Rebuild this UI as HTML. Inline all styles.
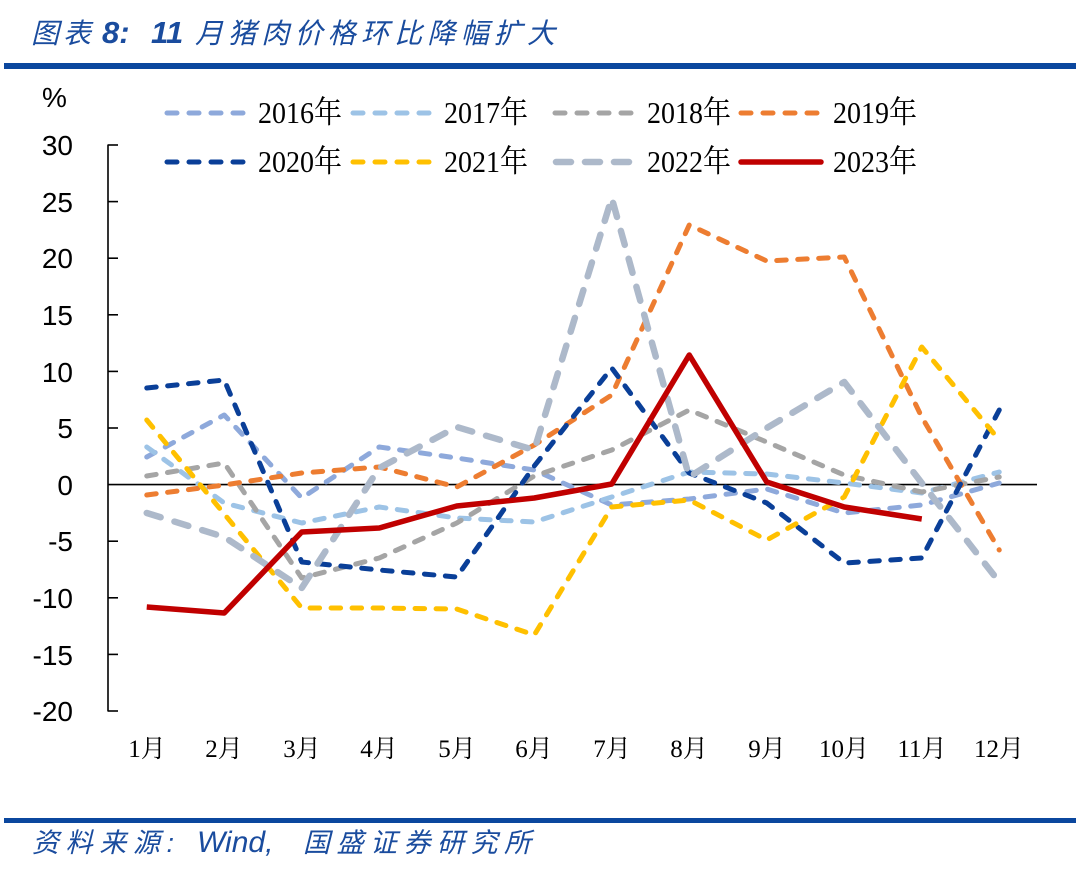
<!DOCTYPE html>
<html>
<head>
<meta charset="utf-8">
<style>
  html,body{margin:0;padding:0;background:#fff;}
  body{width:1080px;height:869px;overflow:hidden;}
  svg{display:block;}
</style>
</head>
<body>
<svg width="1080" height="869" viewBox="0 0 1080 869" xmlns="http://www.w3.org/2000/svg">
  <!-- Title -->
  <g fill="#1A4C9E" font-style="italic">
    <text x="31" y="43" font-family="'Liberation Sans','Noto Sans CJK SC',sans-serif" font-size="28" textLength="60" lengthAdjust="spacing">图表</text>
    <text x="102" y="43" font-family="'Liberation Sans',sans-serif" font-size="31" font-weight="bold">8:</text>
    <text x="151" y="43" font-family="'Liberation Sans',sans-serif" font-size="31" font-weight="bold">11</text>
    <text x="195" y="43" font-family="'Liberation Sans','Noto Sans CJK SC',sans-serif" font-size="28" textLength="360" lengthAdjust="spacing">月猪肉价格环比降幅扩大</text>
  </g>
  <rect x="4" y="63" width="1072" height="6" fill="#0B479E"/>

  <!-- % label -->
  <text x="42" y="107" font-family="'Liberation Sans',sans-serif" font-size="28" fill="#000">%</text>

  <!-- Y axis labels -->
  <g font-family="'Liberation Sans',sans-serif" font-size="28" fill="#000" text-anchor="end">
    <text x="73" y="155">30</text>
    <text x="73" y="212">25</text>
    <text x="73" y="268">20</text>
    <text x="73" y="325">15</text>
    <text x="73" y="382">10</text>
    <text x="73" y="438">5</text>
    <text x="73" y="495">0</text>
    <text x="73" y="551">-5</text>
    <text x="73" y="608">-10</text>
    <text x="73" y="665">-15</text>
    <text x="73" y="721">-20</text>
  </g>

  <!-- Axis -->
  <g stroke="#000" stroke-width="1.6" fill="none">
    <line x1="108" y1="144.5" x2="108" y2="711.5"/>
    <line x1="108" y1="145" x2="118" y2="145"/>
    <line x1="108" y1="201.6" x2="118" y2="201.6"/>
    <line x1="108" y1="258.2" x2="118" y2="258.2"/>
    <line x1="108" y1="314.8" x2="118" y2="314.8"/>
    <line x1="108" y1="371.4" x2="118" y2="371.4"/>
    <line x1="108" y1="428" x2="118" y2="428"/>
    <line x1="108" y1="541.2" x2="118" y2="541.2"/>
    <line x1="108" y1="597.8" x2="118" y2="597.8"/>
    <line x1="108" y1="654.4" x2="118" y2="654.4"/>
    <line x1="108" y1="711" x2="118" y2="711"/>
    <line x1="108" y1="484.6" x2="1037" y2="484.6"/>
  </g>

  <!-- X labels -->
  <g font-family="'Liberation Serif','Noto Serif CJK SC',serif" font-size="25" fill="#000" text-anchor="middle">
    <text x="147" y="757">1月</text>
    <text x="224" y="757">2月</text>
    <text x="302" y="757">3月</text>
    <text x="379" y="757">4月</text>
    <text x="457" y="757">5月</text>
    <text x="534" y="757">6月</text>
    <text x="612" y="757">7月</text>
    <text x="689" y="757">8月</text>
    <text x="767" y="757">9月</text>
    <text x="844" y="757">10月</text>
    <text x="922" y="757">11月</text>
    <text x="999" y="757">12月</text>
  </g>

  <!-- Series -->
  <g fill="none" stroke-linecap="round" stroke-linejoin="round">
    <!-- 2016 -->
    <polyline stroke="#8EA9DB" stroke-width="5" stroke-dasharray="9.5 11.5"
      points="146.75,457 224.25,415 301.75,498 379.25,447 456.75,458 534.25,470 611.75,505 689.25,499 766.75,489 844.25,513 921.75,505 999.25,483"/>
    <!-- 2017 -->
    <polyline stroke="#9DC3E6" stroke-width="5" stroke-dasharray="9.5 11.5"
      points="146.75,447 224.25,503 301.75,523 379.25,507 456.75,518 534.25,522 611.75,497 689.25,472 766.75,474 844.25,483 921.75,493 999.25,472"/>
    <!-- 2018 -->
    <polyline stroke="#A5A5A5" stroke-width="5" stroke-dasharray="9.5 11.5"
      points="146.75,476 224.25,463 301.75,578 379.25,558 456.75,523 534.25,476 611.75,450 689.25,410 766.75,442 844.25,475 921.75,492 999.25,477"/>
    <!-- 2019 -->
    <polyline stroke="#ED7D31" stroke-width="5" stroke-dasharray="9.5 11.5"
      points="146.75,495 224.25,485 301.75,473 379.25,467 456.75,487 534.25,445 611.75,395 689.25,225 766.75,261 844.25,257 921.75,417 999.25,550"/>
    <!-- 2020 -->
    <polyline stroke="#0A3F98" stroke-width="5" stroke-dasharray="9.5 11.5"
      points="146.75,388 224.25,380 301.75,562 379.25,570 456.75,577 534.25,466 611.75,368 689.25,473 766.75,503 844.25,563 921.75,558 999.25,410"/>
    <!-- 2021 -->
    <polyline stroke="#FFC000" stroke-width="5" stroke-dasharray="9.5 11.5"
      points="146.75,420 224.25,514 301.75,608 379.25,608 456.75,609 534.25,635 611.75,507 689.25,500 766.75,540 844.25,497 921.75,347 999.25,440"/>
    <!-- 2022 -->
    <polyline stroke="#ADB9CA" stroke-width="6.5" stroke-dasharray="14.5 14.5"
      points="146.75,513 224.25,537 301.75,588 379.25,468 456.75,427 534.25,450 611.75,198 689.25,477 766.75,428 844.25,382 921.75,483 999.25,582"/>
    <!-- 2023 -->
    <polyline stroke="#C00000" stroke-width="5.5" stroke-linecap="butt"
      points="146.75,607 224.25,613 301.75,532 379.25,528 456.75,506 534.25,498 611.75,484 689.25,355 766.75,482 844.25,507 921.75,519"/>
  </g>

  <!-- Legend -->
  <g fill="none" stroke-linecap="round">
    <line x1="167" y1="113" x2="245" y2="113" stroke="#8EA9DB" stroke-width="5" stroke-dasharray="10 12"/>
    <line x1="353" y1="113" x2="431" y2="113" stroke="#9DC3E6" stroke-width="5" stroke-dasharray="10 12"/>
    <line x1="555" y1="113" x2="635" y2="113" stroke="#A5A5A5" stroke-width="5" stroke-dasharray="10 12"/>
    <line x1="741" y1="113" x2="821" y2="113" stroke="#ED7D31" stroke-width="5" stroke-dasharray="10 12"/>
    <line x1="167" y1="162" x2="245" y2="162" stroke="#0A3F98" stroke-width="5" stroke-dasharray="10 12"/>
    <line x1="353" y1="162" x2="431" y2="162" stroke="#FFC000" stroke-width="5" stroke-dasharray="10 12"/>
    <line x1="556" y1="162" x2="632" y2="162" stroke="#ADB9CA" stroke-width="6.5" stroke-dasharray="15 14"/>
    <line x1="741" y1="162" x2="821" y2="162" stroke="#C00000" stroke-width="5.5"/>
  </g>
  <g font-family="'Liberation Serif','Noto Serif CJK SC',serif" font-size="31" fill="#000">
    <text x="258" y="123" textLength="84" lengthAdjust="spacingAndGlyphs">2016年</text>
    <text x="444" y="123" textLength="84" lengthAdjust="spacingAndGlyphs">2017年</text>
    <text x="647" y="123" textLength="84" lengthAdjust="spacingAndGlyphs">2018年</text>
    <text x="833" y="123" textLength="84" lengthAdjust="spacingAndGlyphs">2019年</text>
    <text x="258" y="172" textLength="84" lengthAdjust="spacingAndGlyphs">2020年</text>
    <text x="444" y="172" textLength="84" lengthAdjust="spacingAndGlyphs">2021年</text>
    <text x="647" y="172" textLength="84" lengthAdjust="spacingAndGlyphs">2022年</text>
    <text x="833" y="172" textLength="84" lengthAdjust="spacingAndGlyphs">2023年</text>
  </g>

  <!-- Footer -->
  <rect x="4" y="818" width="1072" height="5" fill="#0B479E"/>
  <g fill="#1A4C9E" font-style="italic">
    <text x="32" y="852" font-family="'Liberation Sans','Noto Sans CJK SC',sans-serif" font-size="27" textLength="142" lengthAdjust="spacing">资料来源:</text>
    <text x="197" y="852" font-family="'Liberation Sans',sans-serif" font-size="30">Wind,</text>
    <text x="303" y="852" font-family="'Liberation Sans','Noto Sans CJK SC',sans-serif" font-size="27" textLength="228" lengthAdjust="spacing">国盛证券研究所</text>
  </g>
</svg>
</body>
</html>
